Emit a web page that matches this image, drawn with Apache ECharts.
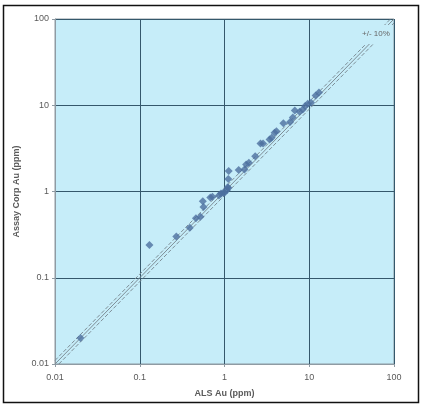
<!DOCTYPE html>
<html>
<head>
<meta charset="utf-8">
<script src="https://cdn.jsdelivr.net/npm/echarts@6/dist/echarts.min.js"></script>
<style>
  html, body { margin: 0; padding: 0; background: #fff; }
  #main { width: 426px; height: 408px; }
</style>
</head>
<body>
<div id="main"></div>
<script>
// ALS Au vs Assay Corp Au (ppm)
const alsAu = [0.02, 0.13, 0.27, 0.39, 0.46, 0.52, 0.555, 0.565, 0.68, 0.72, 0.86, 0.91, 0.97, 1.0, 1.07, 1.09, 1.11, 1.12, 1.11,
  1.47, 1.72, 1.8, 1.94, 2.3, 2.66, 2.85, 3.4, 3.6, 3.9, 4.1, 4.95, 5.95, 6.4, 6.75, 7.7, 8.4, 8.95, 9.6, 10.5, 11.9, 13.0]
const assayCorpAu = [0.02, 0.24, 0.30, 0.38, 0.49, 0.51, 0.77, 0.66, 0.85, 0.87, 0.9, 0.95, 0.97, 0.97, 1.04, 1.12, 1.4, 1.73, 1.1,
  1.77, 1.8, 2.06, 2.15, 2.57, 3.6, 3.6, 4.0, 4.2, 4.8, 5.0, 6.2, 6.4, 7.2, 8.7, 8.4, 8.95, 9.8, 10.4, 10.7, 13.0, 14.1]

// reference lines: 1:1 and +/-10 %
const oneToOne = [[0.01, 0.01], [100, 100]]
const plus10 = [[0.01, 0.011], [90.9, 100]]
const minus10 = [[0.0111, 0.01], [100, 90]]

const tickLabels = ['0.01', '0.1', '1', '10', '100']

const points = alsAu.map((x, i) => [x, assayCorpAu[i]])

const chart = echarts.init(document.getElementById('main'))

const axisCommon = {
  type: 'log',
  logBase: 10,
  min: 0.01,
  max: 100,
  axisLine: { show: true, lineStyle: { color: '#8f9ba3', width: 1 } },
  axisTick: { show: true, length: 3, lineStyle: { color: '#8f9ba3' } },
  minorTick: { show: false },
  splitLine: { show: true, lineStyle: { color: '#35586c', width: 1 } },
  axisLabel: {
    color: '#5a5a5a',
    fontSize: 9,
    fontFamily: 'Liberation Sans',
    formatter: (v, i) => tickLabels[i]
  },
  nameLocation: 'middle',
  nameTextStyle: { color: '#5a5a5a', fontSize: 9, fontWeight: 'bold', fontFamily: 'Liberation Sans' }
}

chart.setOption({
  animation: false,
  backgroundColor: '#fff',
  grid: {
    left: 55,
    right: 32,
    top: 19,
    bottom: 44,
    show: true,
    backgroundColor: '#c6edf9',
    borderColor: '#8f9ba3',
    borderWidth: 1
  },
  xAxis: Object.assign({}, axisCommon, {
    name: 'ALS Au (ppm)',
    nameGap: 25,
    axisLabel: Object.assign({}, axisCommon.axisLabel, { margin: 9 })
  }),
  yAxis: Object.assign({}, axisCommon, {
    name: 'Assay Corp Au (ppm)',
    nameGap: 33,
    axisLabel: Object.assign({}, axisCommon.axisLabel, { margin: 6 })
  }),
  graphic: [
    {
      type: 'rect',
      shape: { x: 3.5, y: 5.5, width: 415, height: 397 },
      style: { fill: 'none', stroke: '#111', lineWidth: 1.5 },
      z: 100
    },
    {
      type: 'text',
      left: 359,
      top: 25,
      z: 100,
      style: {
        text: '+/- 10%',
        fill: '#666',
        font: '8px "Liberation Sans"',
        backgroundColor: '#c6edf9',
        padding: [5, 3, 6, 3]
      }
    }
  ],
  series: [
    {
      type: 'line',
      data: oneToOne,
      symbol: 'none',
      lineStyle: { color: '#7d8d96', width: 1 },
      z: 2
    },
    {
      type: 'line',
      data: plus10,
      symbol: 'none',
      lineStyle: { color: '#7d8d96', width: 1, type: [4, 2] },
      z: 2
    },
    {
      type: 'line',
      data: minus10,
      symbol: 'none',
      lineStyle: { color: '#7d8d96', width: 1, type: [4, 2] },
      z: 2
    },
    {
      type: 'scatter',
      data: points,
      symbol: 'diamond',
      symbolSize: 8,
      itemStyle: { color: '#4c6f9f' },
      z: 5
    }
  ]
})
</script>
</body>
</html>
